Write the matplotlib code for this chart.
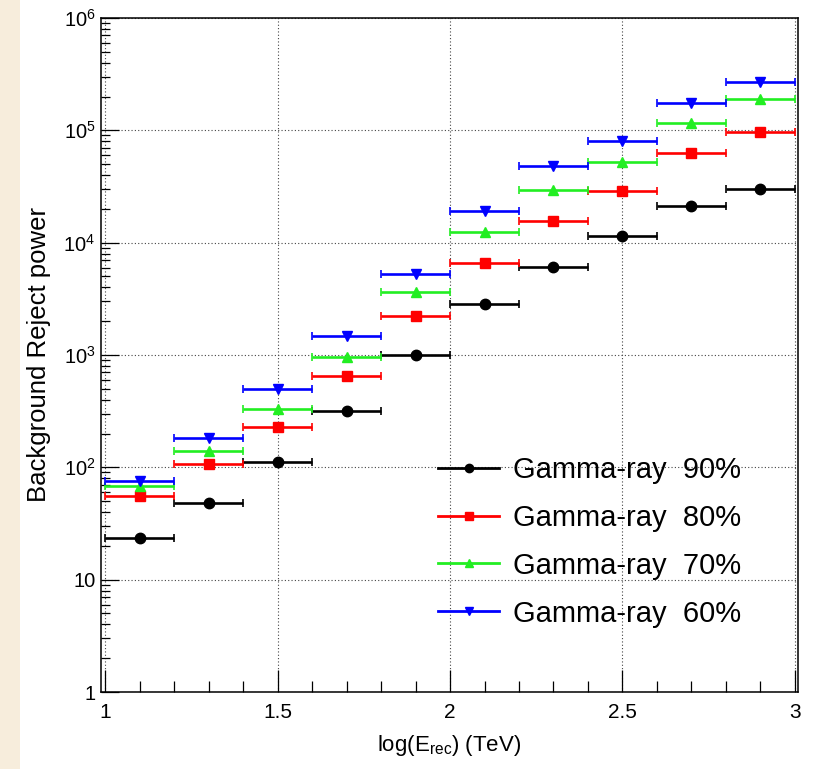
import math
import matplotlib.pyplot as plt
from matplotlib.lines import Line2D
from matplotlib.patches import Rectangle
from matplotlib.ticker import FixedLocator, FuncFormatter, LogLocator, MultipleLocator, NullFormatter

# bins in log10(E_rec / TeV)
energy_center = [1.1, 1.3, 1.5, 1.7, 1.9, 2.1, 2.3, 2.5, 2.7, 2.9]
bin_halfwidth = [0.1] * len(energy_center)

# background rejection power for each gamma-ray efficiency
reject_90 = [23.4, 48, 111, 320, 1000, 2870, 6100, 11500, 21400, 30200]
reject_80 = [56, 107, 227, 645, 2240, 6640, 15700, 29000, 63000, 97000]
reject_70 = [68, 141, 330, 955, 3650, 12500, 29600, 52500, 117000, 191000]
reject_60 = [75, 181, 495, 1490, 5300, 19200, 48500, 80000, 175000, 270000]

labels = ['Gamma-ray  90%', 'Gamma-ray  80%', 'Gamma-ray  70%', 'Gamma-ray  60%']
x_ticks = [1, 1.5, 2, 2.5, 3]
y_ticks = [1, 10, 1e2, 1e3, 1e4, 1e5, 1e6]

plt.rcParams['font.family'] = ['Liberation Sans', 'DejaVu Sans']
plt.rcParams['mathtext.fontset'] = 'custom'
plt.rcParams['mathtext.rm'] = 'Liberation Sans'
plt.rcParams['mathtext.it'] = 'Liberation Sans:italic'
plt.rcParams['mathtext.bf'] = 'Liberation Sans:bold'

fig = plt.figure(figsize=(8.23, 7.69), dpi=100)
fig.patch.set_facecolor('white')
fig.patches.append(Rectangle((0, 0), 20 / 823, 1, transform=fig.transFigure,
                             facecolor='#f7eddc', edgecolor='none', zorder=-1))

ax = fig.add_axes([101 / 823, 1 - 692 / 769, 697 / 823, 674 / 769])

series = [
    (reject_90, 'black', 'o', 7.5),
    (reject_80, '#ff0000', 's', 7),
    (reject_70, '#22ee22', '^', 7.5),
    (reject_60, '#0000ff', 'v', 7.5),
]

handles = []
for (vals, col, mk, ms), lab in zip(series, labels):
    ax.errorbar(energy_center, vals, xerr=bin_halfwidth, fmt=mk, color=col,
                markersize=ms, elinewidth=1.9, capsize=2.6, capthick=1.2, zorder=3)
    handles.append(Line2D([], [], color=col, marker=mk, markersize=ms * 0.8, lw=2))

ax.set_yscale('log')
ax.set_xlim(0.988, 3.009)
ax.set_ylim(1, 1e6)

ax.xaxis.set_major_locator(FixedLocator(x_ticks))
ax.xaxis.set_minor_locator(MultipleLocator(0.1))
ax.xaxis.set_major_formatter(FuncFormatter(lambda v, p: f'{v:g}'))
ax.yaxis.set_major_locator(FixedLocator(y_ticks))
ax.yaxis.set_minor_locator(LogLocator(base=10, subs=range(2, 10), numticks=20))


def ylab(v, p):
    e = int(round(math.log10(v)))
    if e == 0:
        return '1'
    if e == 1:
        return '10'
    return r'$\mathregular{10^{%d}}$' % e


ax.yaxis.set_major_formatter(FuncFormatter(ylab))
ax.yaxis.set_minor_formatter(NullFormatter())

ax.tick_params(axis='both', which='both', direction='in', width=0.9, color='black')
ax.tick_params(axis='x', which='major', length=16, labelsize=15, pad=8)
ax.tick_params(axis='x', which='minor', length=8)
ax.tick_params(axis='y', which='major', length=13, labelsize=14.5, pad=4)
ax.tick_params(axis='y', which='minor', length=6.5)

ax.grid(True, which='major', color='#444444', linestyle=(0, (1, 2)), linewidth=0.8)
ax.set_axisbelow(True)
for s in ax.spines.values():
    s.set_linewidth(1.1)

ax.set_xlabel(r'log(E$_{\mathregular{rec}}$) (TeV)', fontsize=16, labelpad=8)
ax.set_ylabel('Background Reject power', fontsize=18.5)
ax.yaxis.set_label_coords(-0.072, 0.5)

ax.legend(handles, labels, loc='upper left', frameon=False, fontsize=21,
          handlelength=2.1, handletextpad=0.48, labelspacing=0.68,
          borderpad=0, borderaxespad=0,
          bbox_to_anchor=(438 / 823, 1 - 456 / 769), bbox_transform=fig.transFigure)

fig.savefig('out.png', dpi=100)
